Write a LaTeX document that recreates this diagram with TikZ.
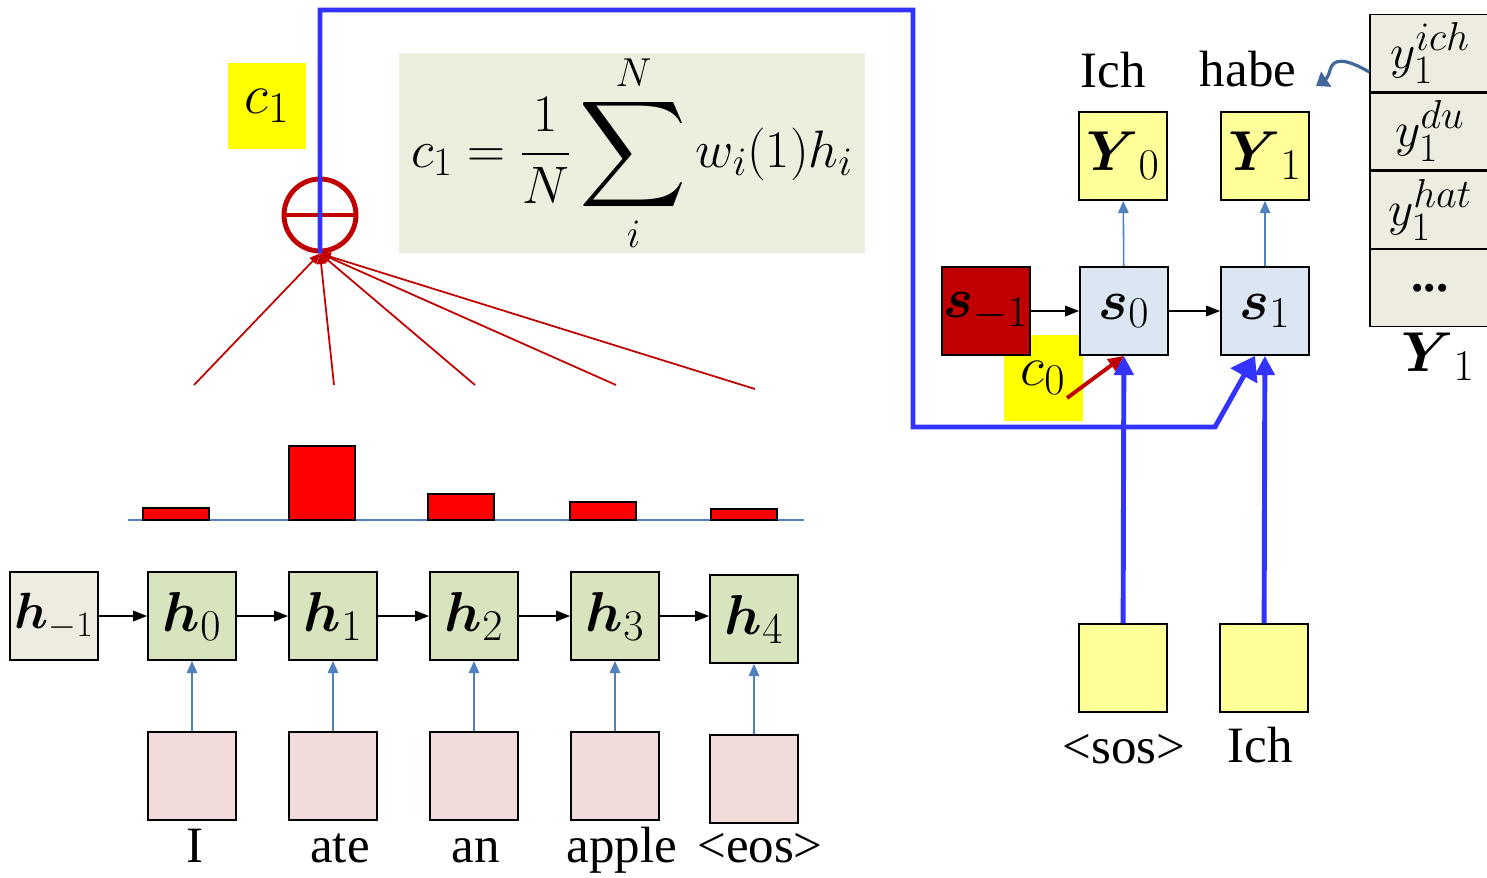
\RequirePackage{fix-cm}
\documentclass[tikz,border=0pt]{standalone}
\usepackage{amsmath}
\usepackage{graphicx}
\usepackage{fontspec}
\setmainfont{Liberation Serif}
\usetikzlibrary{arrows.meta, positioning, calc}
\DeclareMathSizes{32}{32}{25}{19}
\DeclareMathSizes{30}{30}{23}{18}
\DeclareMathSizes{28}{28}{23}{18}
\definecolor{encgreen}{HTML}{D7E4BD}
\definecolor{initgray}{HTML}{EEECE1}
\definecolor{embpink}{HTML}{F2DCDB}
\definecolor{decblue}{HTML}{DCE6F2}
\definecolor{outyellow}{HTML}{FFFF99}
\definecolor{ctxyellow}{HTML}{FFFF00}
\definecolor{darkred}{HTML}{C00000}
\definecolor{linkblue}{HTML}{4F81BD}
\definecolor{flowblue}{HTML}{3333FF}
\definecolor{eqback}{HTML}{EBEFDE}
\definecolor{curlblue}{HTML}{41679A}
\newcommand{\bigsum}{\mathop{\vcenter{\hbox{\scalebox{1.7}{$\displaystyle\sum$}}}}\limits}

\begin{document}
\begin{tikzpicture}[
        x=0.02cm, y=-0.02cm,
        >={Triangle[length=8pt,width=6pt]},
        every node/.style={font=\fontsize{29}{32}\selectfont},
        cell/.style={draw, line width=1pt, minimum size=1.76cm, inner sep=0pt, font=\fontsize{32}{34}\selectfont},
        tabcell/.style={draw, line width=0.8pt, fill=initgray, minimum width=2.4cm, minimum height=1.54cm, inner sep=0pt, font=\fontsize{28}{30}\selectfont},
        ctxbox/.style={fill=ctxyellow, minimum width=1.58cm, minimum height=1.72cm, font=\fontsize{32}{34}\selectfont},
        chain/.style={->, line width=1pt},
        feed/.style={-{Triangle[length=7pt,width=6pt]}, linkblue, line width=0.9pt},
        flow/.style={flowblue, line width=2.8pt},
        attn/.style={-{Triangle[length=6pt,width=5pt]}, darkred, line width=1pt},
        bar/.style={fill=red, draw=black, line width=0.6pt}
    ]
        \useasboundingbox (0,0) rectangle (1487,877);

        % Encoder states
        \node[cell, fill=initgray, font=\fontsize{29}{32}\selectfont] (hm) at (54,616) {$\boldsymbol{h}_{-1}$};
        \foreach \i/\x in {0/192, 1/333, 2/474, 3/615}
            \node[cell, fill=encgreen] (h\i) at (\x,616) {$\boldsymbol{h}_{\i}$};
        \node[cell, fill=encgreen] (h4) at (754,619) {$\boldsymbol{h}_4$};

        % Input embeddings and words
        \foreach \i/\x/\word in {0/195/I, 1/340/ate, 2/476/an, 3/622/apple, 4/760/<eos>}{
            \node[cell, fill=embpink, below=1.4cm of h\i] (e\i) {};
            \draw[feed] (e\i) -- (h\i);
            \node[anchor=base] (word\i) at (\x,862) {\word};
        }

        \draw[chain] (hm) -- (h0);
        \draw[chain] (h0) -- (h1);
        \draw[chain] (h1) -- (h2);
        \draw[chain] (h2) -- (h3);
        \draw[chain] (h3.east) -- (h3.east -| h4.west);

        % Attention weights
        \draw[linkblue, line width=1.5pt] (128,520) -- (804,520);
        \foreach \x/\h in {143/12, 289/74, 428/26, 570/18, 711/11}
            \draw[bar] (\x,520) rectangle ++(66,-\h);

        % Weighted sum
        \node[draw=darkred, line width=2.8pt, circle, minimum size=1.44cm, inner sep=0pt] (sumop) at (320,215) {};
        \draw[darkred, line width=2.8pt] (sumop.west) -- (sumop.east);
        \foreach \i/\x/\y in {0/194/385, 1/334/385, 2/475/385, 3/616/385, 4/755/389}{
            \coordinate (w\i) at (\x,\y);
            \draw[attn] (w\i) -- (sumop.south);
        }

        \node[ctxbox] (c1) at (267,106) {$c_1$};
        \node[fill=eqback, minimum width=9.34cm, minimum height=4.02cm, inner sep=0pt, font=\fontsize{30}{33}\selectfont] (eq) at (632,153)
            {$\displaystyle c_1 = \frac{1}{N}\bigsum_{i}^{N} w_i(1)h_i$};

        % Decoder states
        \node[ctxbox] (c0) at (1043,378) {$c_0$};
        \node[cell, fill=darkred] (sm) at (986,311) {$\boldsymbol{s}_{-1}$};
        \node[cell, fill=decblue] (s0) at (1124,311) {$\boldsymbol{s}_0$};
        \node[cell, fill=decblue] (s1) at (1265,311) {$\boldsymbol{s}_1$};
        \draw[chain] (sm) -- (s0);
        \draw[chain] (s0) -- (s1);
        \draw[-{Triangle[length=9pt,width=8pt]}, darkred, line width=2.2pt] ($(c0.center)+(24,20)$) -- (s0.south);

        % Context path
        \draw[flow, -{Triangle[length=13pt,width=17pt]}] (sumop.south) -- (320,10) -- (913,10) -- (913,427) -- (1215,427) -- ([xshift=-0.2cm]s1.south);

        % Outputs
        \node[cell, fill=outyellow] (y0) at (1123,156) {$\boldsymbol{Y}_0$};
        \node[cell, fill=outyellow] (y1) at (1265,156) {$\boldsymbol{Y}_1$};
        \draw[feed] (s0) -- (y0);
        \draw[feed] (s1) -- (y1);
        \node[anchor=base] (ich) at (1113,87) {Ich};
        \node[anchor=base] (habe) at (1248,86) {habe};

        % Decoder inputs
        \node[cell, fill=outyellow] (x0) at (1123,668) {};
        \node[cell, fill=outyellow] (x1) at (1264,668) {};
        \node[anchor=base] (sos) at (1124,763) {<sos>};
        \node[anchor=base] (ichin) at (1260,762) {Ich};
        \draw[flow, -{Triangle[length=11pt,width=11pt]}] (x0) -- (s0);
        \draw[flow, -{Triangle[length=11pt,width=11pt]}] (x1) -- (s1);

        % Output distribution
        \node[tabcell] (t1) at (1430,53) {$y_1^{ich}$};
        \node[tabcell, below=0pt of t1] (t2) {$y_1^{du}$};
        \node[tabcell, below=0pt of t2] (t3) {$y_1^{hat}$};
        \node[tabcell, below=0pt of t3] (t4) {\textbf{...}};
        \node[font=\fontsize{32}{34}\selectfont] (ylabel) at (1438,357) {$\boldsymbol{Y}_1$};
        \coordinate (curlend) at (1316,86);
        \draw[curlblue, line width=1.8pt, -{Triangle[length=7pt,width=10pt]}] ([yshift=-0.38cm]t1.west) .. controls (1345,58) and (1333,58) .. (1330,70) .. controls (1328,78) and (1325,80) .. (curlend);

    \end{tikzpicture}
\end{document}
